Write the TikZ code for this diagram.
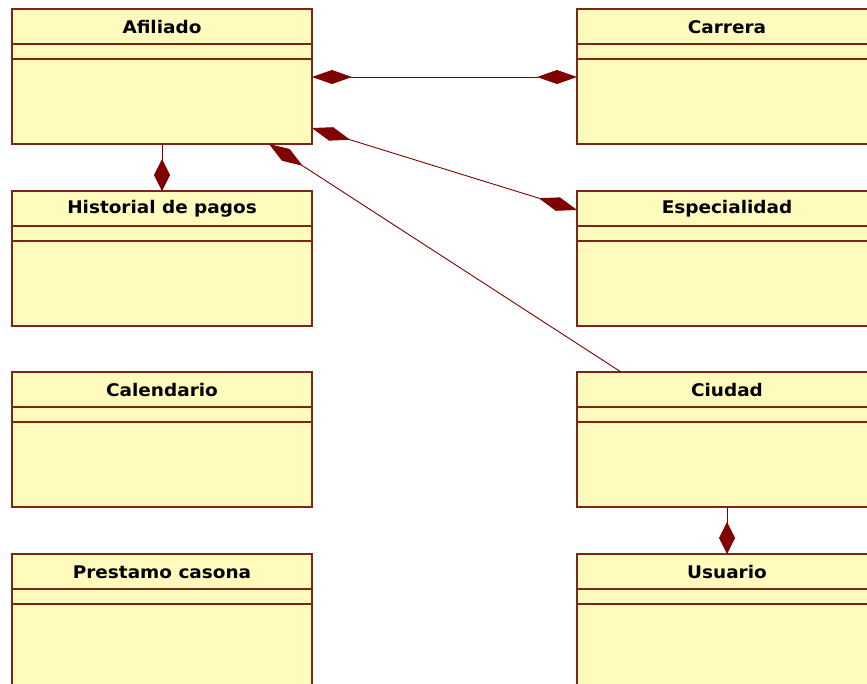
\documentclass[tikz,border=0pt]{standalone}
\usepackage{fontspec}
\usetikzlibrary{arrows.meta,calc}
\newfontfamily\clsfont[FakeStretch=1.06]{DejaVu Sans}

\definecolor{clsfill}{RGB}{255,251,189}
\definecolor{clsline}{RGB}{122,40,22}
\definecolor{assoc}{RGB}{128,0,0}

\tikzset{
  x=1pt, y=-1pt,
  umlbox/.style={draw=clsline, line width=1.6pt, fill=clsfill, rectangle,
    minimum width=300pt, minimum height=135pt, anchor=north west,
    inner sep=0pt, outer sep=0pt},
  clstitle/.style={font=\clsfont\bfseries\fontsize{17.4}{19}\selectfont, inner sep=0pt},
  sepline/.style={draw=clsline, line width=1.4pt},
  assocline/.style={draw=assoc, line width=0.9pt},
  bigdiamond/.tip={Diamond[length=40pt, width=14pt, fill=assoc, color=assoc]},
  vdiamond/.tip={Diamond[length=32pt, width=16pt, fill=assoc, color=assoc]},
}

% class box: name, top-left corner, title
\newcommand\umlclass[3]{%
  \node[umlbox] (#1) at (#2) {};
  \node[clstitle] (#1-title) at ($(#1.north)+(0,18)$) {#3};
  \draw[sepline] ($(#1.north west)+(0,35)$) -- ($(#1.north east)+(0,35)$);
  \draw[sepline] ($(#1.north west)+(0,50)$) -- ($(#1.north east)+(0,50)$);
}

\begin{document}
\begin{tikzpicture}
\useasboundingbox[fill=white] (0,0) rectangle (867,683);

\umlclass{afiliado}{12,9}{Afiliado}
\umlclass{historial}{12,191}{Historial de pagos}
\umlclass{calendario}{12,372}{Calendario}
\umlclass{prestamo}{12,554}{Prestamo casona}
\umlclass{carrera}{577,9}{Carrera}
\umlclass{especialidad}{577,191}{Especialidad}
\umlclass{ciudad}{577,372}{Ciudad}
\umlclass{usuario}{577,554}{Usuario}

% associations
\draw[assocline, {bigdiamond}-{bigdiamond}]
  ($(afiliado.north east)+(0,68)$) -- ($(carrera.north west)+(0,68)$);
\draw[assocline, {bigdiamond}-{bigdiamond}]
  ($(afiliado.north east)+(0,119)$) -- ($(especialidad.north west)+(0,19)$);
\draw[assocline, {bigdiamond}-]
  ($(afiliado.south west)+(257,0)$) -- ($(ciudad.north west)+(44,0)$);
\draw[assocline, -{vdiamond}] (afiliado.south) -- (historial.north);
\draw[assocline, -{vdiamond}] (ciudad.south) -- (usuario.north);
\end{tikzpicture}
\end{document}
